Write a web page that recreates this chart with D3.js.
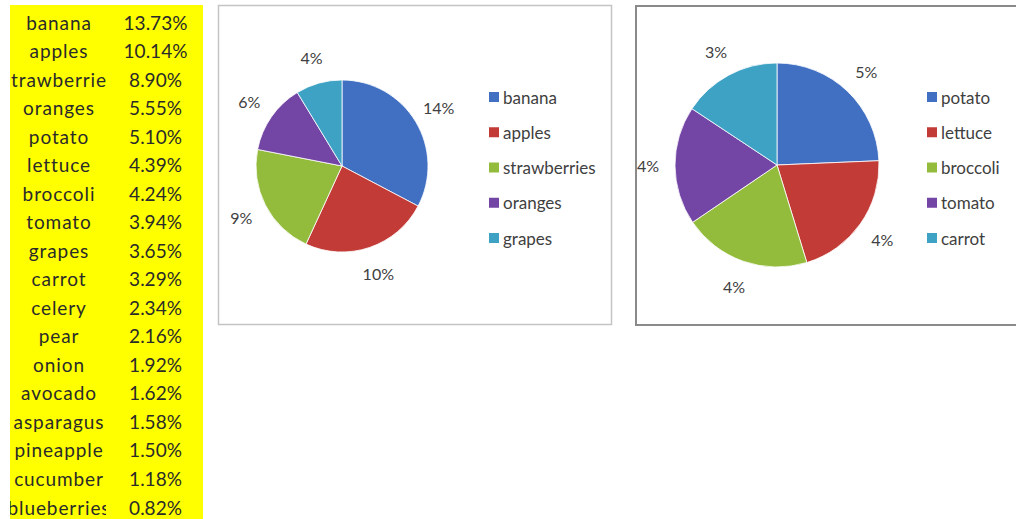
<!DOCTYPE html>
<html>
<head>
<meta charset="utf-8">
<script src="https://cdn.jsdelivr.net/npm/d3@7"></script>
<style>
  html, body { margin: 0; padding: 0; background: #fff; }
  svg { display: block; font-family: Lato, "Open Sans", sans-serif; }
</style>
</head>
<body>
<svg id="chart" width="1016" height="519"></svg>
<script>
// ---- data ----
const tableItems = ["banana","apples","strawberries","oranges","potato","lettuce","broccoli","tomato","grapes","carrot","celery","pear","onion","avocado","asparagus","pineapple","cucumber","blueberries"];
const tableValues = [13.73,10.14,8.90,5.55,5.10,4.39,4.24,3.94,3.65,3.29,2.34,2.16,1.92,1.62,1.58,1.50,1.18,0.82];

const fruitNames = ["banana","apples","strawberries","oranges","grapes"];
const fruitValues = [13.73,10.14,8.90,5.55,3.65];

const vegNames = ["potato","lettuce","broccoli","tomato","carrot"];
const vegValues = [5.10,4.39,4.24,3.94,3.29];

const sliceColors = ["#4170C2","#C23B36","#93BB3C","#7345A4","#3DA2C4"];

const svg = d3.select("#chart");

// ---- table ----
const tableX = 10, tableTop = 5, tableRight = 203, colSplit = 106;
const rowY = d3.scalePoint().domain(d3.range(tableItems.length)).range([22, 507]);

svg.append("rect").attr("x", tableX).attr("y", tableTop)
  .attr("width", tableRight - tableX).attr("height", 519 - tableTop)
  .attr("fill", "#FFFF00");

svg.append("clipPath").attr("id", "labelClip")
  .append("rect").attr("x", tableX).attr("y", 0).attr("width", colSplit - tableX).attr("height", 519);

const tbl = svg.append("g").attr("font-size", 19).attr("fill", "#2a2a2a");
tbl.append("g").attr("clip-path", "url(#labelClip)")
  .selectAll("text").data(tableItems).join("text")
  .attr("x", (tableX + colSplit) / 2 + 1)
  .attr("y", (d, i) => rowY(i))
  .attr("letter-spacing", 0.9)
  .attr("text-anchor", "middle").attr("dominant-baseline", "central")
  .text(d => d);
tbl.append("g").selectAll("text").data(tableValues).join("text")
  .attr("x", (colSplit + tableRight) / 2 + 1)
  .attr("y", (d, i) => rowY(i))
  .attr("text-anchor", "middle").attr("dominant-baseline", "central")
  .text(d => d.toFixed(2) + "%");

// ---- pie chart helper ----
function pieChart(opts) {
  const g = svg.append("g");
  g.append("rect")
    .attr("x", opts.box[0]).attr("y", opts.box[1])
    .attr("width", opts.box[2]).attr("height", opts.box[3])
    .attr("fill", "#fff").attr("stroke", opts.borderColor).attr("stroke-width", opts.borderWidth);

  const pie = d3.pie().sort(null).value(d => d.v);
  const data = pie(opts.names.map((n, i) => ({ n, v: opts.values[i] })));
  const color = d3.scaleOrdinal().domain(opts.names).range(sliceColors);
  const arc = d3.arc().innerRadius(0).outerRadius(opts.r);
  const labelArc = d3.arc().innerRadius(opts.r + 27).outerRadius(opts.r + 27);

  const pg = g.append("g").attr("transform", `translate(${opts.cx},${opts.cy})`);
  pg.selectAll("path").data(data).join("path")
    .attr("d", arc)
    .attr("fill", d => color(d.data.n))
    .attr("stroke", "#fff").attr("stroke-width", 0.8);

  pg.selectAll("text").data(data).join("text")
    .attr("transform", d => `translate(${labelArc.centroid(d)})`)
    .attr("text-anchor", "middle").attr("dominant-baseline", "central")
    .attr("font-size", 16).attr("fill", "#404040")
    .text(d => Math.round(d.data.v) + "%");

  const lg = g.append("g").attr("transform", `translate(${opts.legendX},0)`);
  const ly = d3.scalePoint().domain(opts.names).range([97, 238]);
  const items = lg.selectAll("g").data(opts.names).join("g")
    .attr("transform", d => `translate(0,${ly(d)})`);
  items.append("rect").attr("x", 0).attr("y", -5).attr("width", 10).attr("height", 10)
    .attr("fill", d => color(d));
  items.append("text").attr("x", 14).attr("y", 0)
    .attr("dominant-baseline", "central")
    .attr("font-size", 17).attr("fill", "#404040")
    .text(d => d);
}

pieChart({
  box: [218.5, 5.5, 393, 319], borderColor: "#c4c4c4", borderWidth: 1.5,
  cx: 342, cy: 166, r: 86,
  names: fruitNames, values: fruitValues,
  legendX: 489
});

pieChart({
  box: [636, 6, 400, 319], borderColor: "#8a8a8a", borderWidth: 2,
  cx: 777, cy: 165, r: 102,
  names: vegNames, values: vegValues,
  legendX: 927
});
</script>
</body>
</html>
